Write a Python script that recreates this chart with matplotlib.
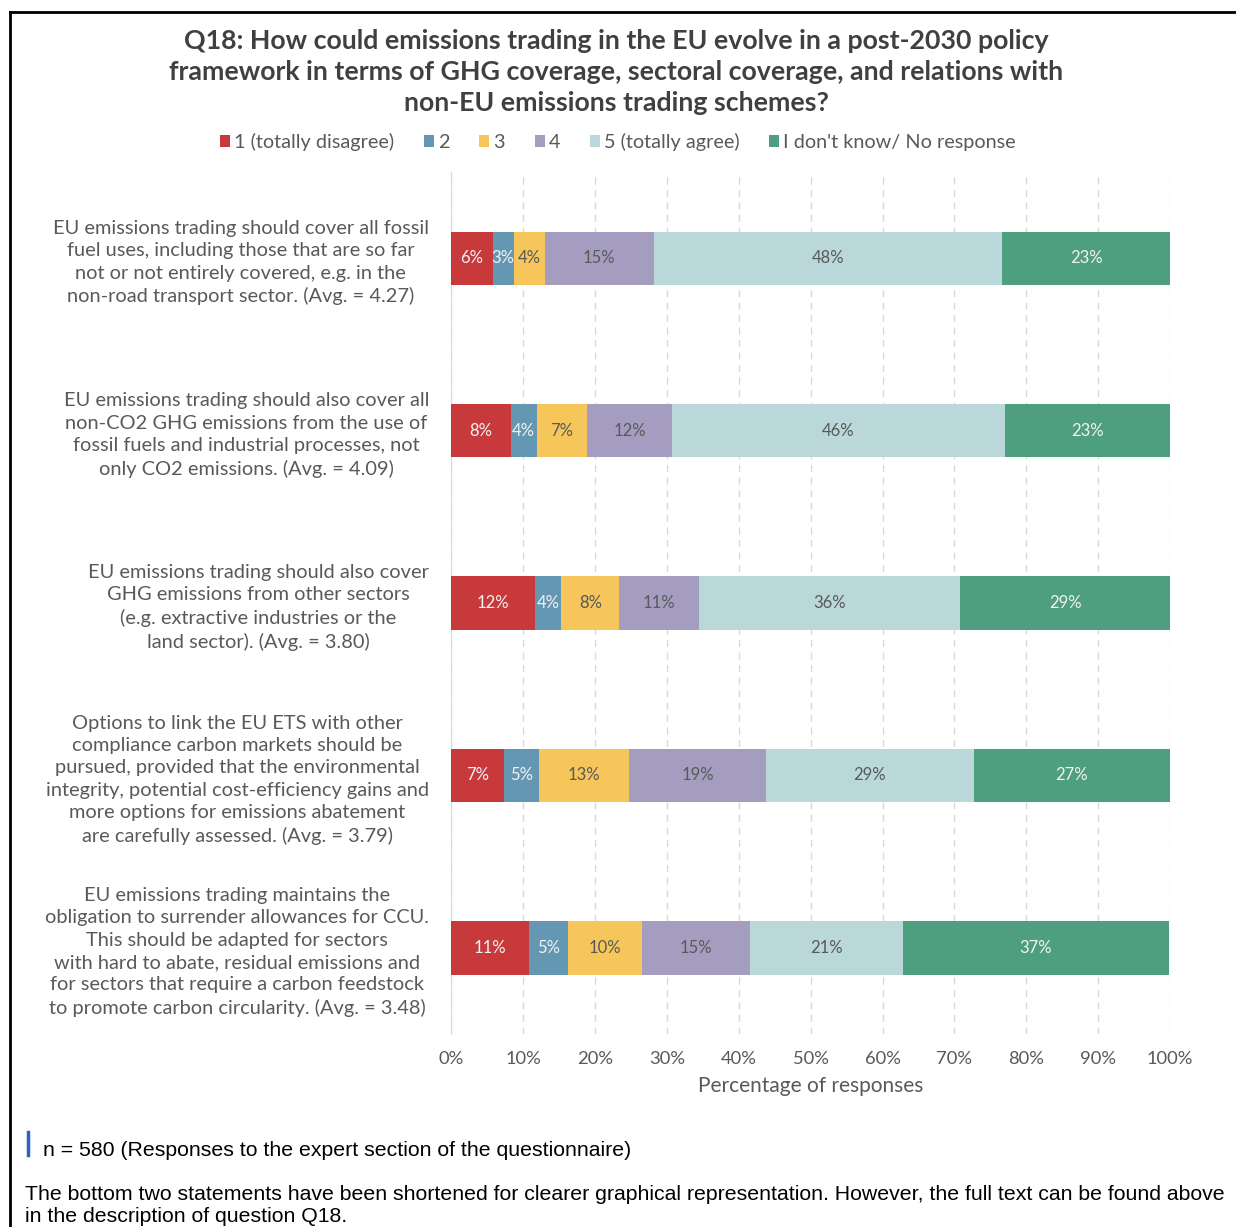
import numpy as np
import matplotlib
matplotlib.use("Agg")
from matplotlib import pyplot as plt
from matplotlib.lines import Line2D
from matplotlib.patches import Patch

plt.rcParams['font.family'] = ['Lato', 'DejaVu Sans']

# statements, top to bottom
statements = [
    "EU emissions trading should cover all fossil\nfuel uses, including those that are so far\nnot or not entirely covered, e.g. in the\nnon-road transport sector. (Avg. = 4.27)",
    "EU emissions trading should also cover all\nnon-CO2 GHG emissions from the use of\nfossil fuels and industrial processes, not\nonly CO2 emissions. (Avg. = 4.09)",
    "EU emissions trading should also cover\nGHG emissions from other sectors\n(e.g. extractive industries or the\nland sector). (Avg. = 3.80)",
    "Options to link the EU ETS with other\ncompliance carbon markets should be\npursued, provided that the environmental\nintegrity, potential cost-efficiency gains and\nmore options for emissions abatement\nare carefully assessed. (Avg. = 3.79)",
    "EU emissions trading maintains the\nobligation to surrender allowances for CCU.\nThis should be adapted for sectors\nwith hard to abate, residual emissions and\nfor sectors that require a carbon feedstock\nto promote carbon circularity. (Avg. = 3.48)",
]

answers = ["1 (totally disagree)", "2", "3", "4", "5 (totally agree)",
           "I don't know/ No response"]

# percentages per answer, one value per statement
disagree = [5.8, 8.3, 11.7, 7.3, 10.8]
two = [2.9, 3.6, 3.6, 4.9, 5.4]
three = [4.3, 7.0, 8.1, 12.6, 10.3]
four = [15.2, 11.8, 11.1, 19.0, 15.0]
agree = [48.4, 46.3, 36.3, 28.9, 21.3]
dont_know = [23.4, 23.0, 29.2, 27.3, 37.1]

series = [disagree, two, three, four, agree, dont_know]
colors = ['#C8393B', '#6497B1', '#F7C65A', '#A59DC0', '#BAD8DA', '#4E9E80']
label_colors = ['#F2F2F2', '#F2F2F2', '#595959', '#595959', '#595959', '#F2F2F2']

gray = '#595959'

fig = plt.figure(figsize=(12.36, 12.27), dpi=100)
ax = fig.add_axes([0.365, 0.1573, 0.5817, 0.7025])

y = np.arange(len(statements))
left = np.zeros(len(statements))
for vals, c, tc, name in zip(series, colors, label_colors, answers):
    vals = np.array(vals)
    bars = ax.barh(y, vals, left=left, height=0.31, color=c, label=name, zorder=3)
    for b, v in zip(bars, vals):
        ax.text(b.get_x() + b.get_width() / 2, b.get_y() + b.get_height() / 2,
                f"{v:.0f}%", ha='center', va='center', color=tc, fontsize=12, zorder=4)
    left += vals

ax.set_xlim(0, 100)
ax.set_ylim(len(statements) - 0.5, -0.5)
ax.set_xticks(np.arange(0, 101, 10))
ax.set_xticklabels([f"{t}%" for t in range(0, 101, 10)])
ax.set_yticks(y)
ax.set_yticklabels(statements)
for lab in ax.get_yticklabels():
    lab.set_multialignment('center')
    lab.set_linespacing(1.38)
ax.tick_params(axis='y', length=0, pad=16, labelsize=14.4, labelcolor=gray)
ax.tick_params(axis='x', length=0, pad=12, labelsize=13.2, labelcolor=gray)
ax.grid(axis='x', linestyle=(0, (5, 4)), color='#D9D9D9', linewidth=1, zorder=0)
for s in ['top', 'right', 'bottom']:
    ax.spines[s].set_visible(False)
ax.spines['left'].set_color('#D9D9D9')
ax.set_xlabel('Percentage of responses', fontsize=15, color=gray, labelpad=7)

fig.text(0.4985, 1 - 72 / 1227,
         "Q18: How could emissions trading in the EU evolve in a post-2030 policy\n"
         "framework in terms of GHG coverage, sectoral coverage, and relations with\n"
         "non-EU emissions trading schemes?",
         ha='center', va='center', fontsize=19.3, fontweight='bold', color='#404040',
         linespacing=1.35)

handles = [Patch(facecolor=c, label=n) for c, n in zip(colors, answers)]
leg = fig.legend(handles=handles, loc='center', bbox_to_anchor=(0.5, 1 - 142 / 1227),
                 ncol=6, frameon=False, fontsize=14.3, handlelength=0.5, handleheight=0.5,
                 handletextpad=0.2, columnspacing=1.5, labelcolor=gray)

# footer
fig.add_artist(Line2D([28 / 1236, 28 / 1236], [1 - 1132 / 1227, 1 - 1155 / 1227],
                      color='#2A62C0', linewidth=2.5))
fig.text(43 / 1236, 1 - 1151 / 1227,
         "n = 580 (Responses to the expert section of the questionnaire)",
         ha='left', va='center', fontsize=15.3, family='Liberation Sans', color='black')
fig.text(25 / 1236, 1 - 1206 / 1227,
         "The bottom two statements have been shortened for clearer graphical representation. "
         "However, the full text can be found above\nin the description of question Q18.",
         ha='left', va='center', fontsize=15.3, family='Liberation Sans', color='black',
         linespacing=1.2)

# frame
fig.add_artist(Line2D([10 / 1236, 1], [1 - 12 / 1227, 1 - 12 / 1227], color='black', linewidth=2))
fig.add_artist(Line2D([10 / 1236, 10 / 1236], [0, 1 - 12 / 1227], color='black', linewidth=2))

fig.savefig('out.png', dpi=100)
